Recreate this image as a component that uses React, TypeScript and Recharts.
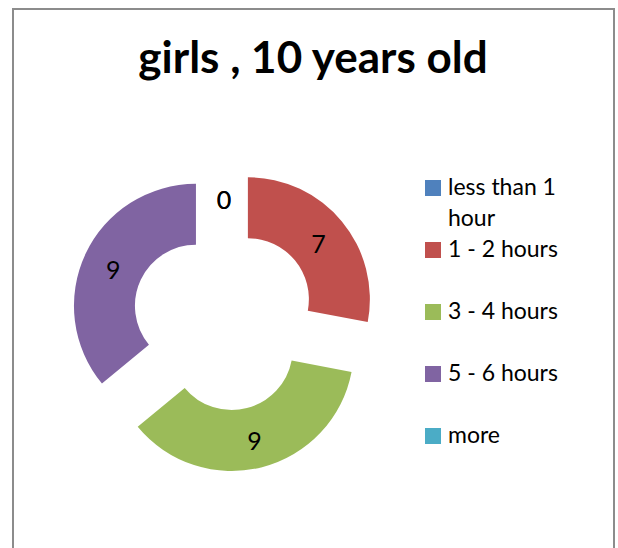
import React from "react";
import { Legend, Pie, PieChart, Sector, Cell } from "recharts";

const categories = ["less than 1 hour", "1 - 2 hours", "3 - 4 hours", "5 - 6 hours", "more"];
const counts = [0, 7, 9, 9, 0];
const colors = ["#4F81BD", "#C0504D", "#9BBB59", "#8064A2", "#4BACC6"];

const chartData = categories.map((name, i) => ({ name, value: counts[i] }));

const RADIAN = Math.PI / 180;
const EXPLODE = 31;
const FONT = "Lato, 'Open Sans', sans-serif";

// pull every slice outward along its own middle angle (Excel "exploded doughnut")
const ExplodedSector = (props: any) => {
  const { cx, cy, midAngle } = props;
  const dx = EXPLODE * Math.cos(-midAngle * RADIAN);
  const dy = EXPLODE * Math.sin(-midAngle * RADIAN);
  return <Sector {...props} cx={cx + dx} cy={cy + dy} />;
};

const renderLabel = (props: any) => {
  const { cx, cy, midAngle, innerRadius, outerRadius, value } = props;
  const r = (innerRadius + outerRadius) / 2 + EXPLODE;
  const x = cx + r * Math.cos(-midAngle * RADIAN);
  const y = cy + r * Math.sin(-midAngle * RADIAN);
  return (
    <text
      x={x}
      y={y + 2}
      fill="#000"
      textAnchor="middle"
      dominantBaseline="central"
      fontFamily={FONT}
      fontSize={25}
    >
      {value}
    </text>
  );
};

const renderLegend = (props: any) => {
  // keep the data order (recharts sorts legend items by name otherwise)
  const payload = [...(props.payload || [])].sort(
    (a: any, b: any) => categories.indexOf(a.value) - categories.indexOf(b.value)
  );
  return (
    <div style={{ fontFamily: FONT, fontSize: 23, lineHeight: "31px", color: "#000" }}>
      {payload.map((entry: any, i: number) => (
        <div key={`legend-${i}`} style={{ display: "flex", alignItems: "flex-start", height: 62 }}>
          <span
            style={{
              display: "inline-block",
              width: 16,
              height: 16,
              marginTop: 9,
              marginRight: 7,
              background: entry.color,
              flex: "none",
            }}
          />
          <span style={{ width: 130 }}>{entry.value}</span>
        </div>
      ))}
    </div>
  );
};

export default function App() {
  return (
    <div style={{ position: "absolute", left: 0, top: 0, width: 618, height: 548, overflow: "hidden", background: "#fff" }}>
      <div
        style={{
          position: "absolute",
          left: 12,
          top: 8,
          width: 603,
          height: 600,
          boxSizing: "border-box",
          border: "2px solid #8c8c8c",
        }}
      />
      <div
        style={{
          position: "absolute",
          left: 0,
          top: 34,
          width: 626,
          textAlign: "center",
          fontFamily: FONT,
          fontWeight: 700,
          fontSize: 44,
          lineHeight: "44px",
          color: "#000",
        }}
      >
        girls , 10 years old
      </div>
      <div style={{ position: "absolute", left: 0, top: 0 }}>
        <PieChart width={618} height={548} margin={{ top: 0, right: 0, bottom: 0, left: 0 }}>
          <Pie
            data={chartData}
            dataKey="value"
            nameKey="name"
            cx={224}
            cy={319}
            innerRadius={61}
            outerRadius={122}
            startAngle={90}
            endAngle={-270}
            stroke="none"
            shape={ExplodedSector}
            activeShape={ExplodedSector}
            label={renderLabel}
            labelLine={false}
            isAnimationActive={false}
          >
            {chartData.map((entry, i) => (
              <Cell key={`cell-${entry.name}`} fill={colors[i]} />
            ))}
          </Pie>
          <Legend
            layout="vertical"
            content={renderLegend}
            wrapperStyle={{ position: "absolute", left: 425, top: 171, width: 170 }}
          />
        </PieChart>
      </div>
    </div>
  );
}
